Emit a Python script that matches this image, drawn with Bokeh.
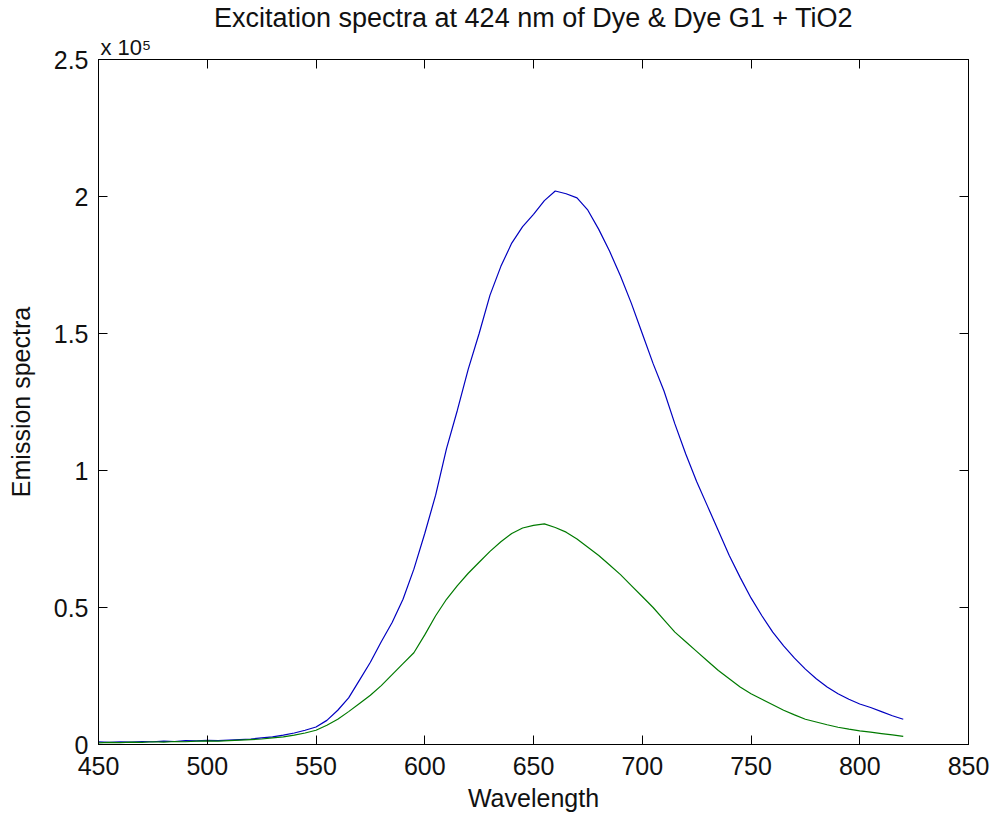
from bokeh.plotting import figure
from bokeh.models import Range1d, LinearAxis, Title, FixedTicker
from bokeh.embed import file_html
from bokeh.resources import INLINE

# wavelength grid (nm)
wavelength = list(range(450, 821, 5))

# Dye (blue), emission in units of 1e5
dye_e5 = [0.010, 0.008, 0.010, 0.009, 0.011, 0.010, 0.012, 0.011, 0.014, 0.013,
          0.015, 0.014, 0.016, 0.018, 0.020, 0.024, 0.028, 0.034, 0.042, 0.052,
          0.064, 0.088, 0.125, 0.170, 0.235, 0.300, 0.375, 0.445, 0.530, 0.640,
          0.770, 0.910, 1.080, 1.220, 1.370, 1.500, 1.640, 1.745, 1.830, 1.890,
          1.935, 1.985, 2.020, 2.010, 1.995, 1.950, 1.880, 1.800, 1.710, 1.610,
          1.500, 1.390, 1.290, 1.170, 1.060, 0.960, 0.870, 0.780, 0.690, 0.610,
          0.535, 0.470, 0.410, 0.360, 0.315, 0.275, 0.240, 0.210, 0.185, 0.165,
          0.148, 0.135, 0.120, 0.105, 0.092]

# Dye G1 + TiO2 (green), emission in units of 1e5
dye_g1_tio2_e5 = [0.006, 0.008, 0.007, 0.009, 0.008, 0.010, 0.009, 0.011, 0.010, 0.012,
                  0.013, 0.012, 0.014, 0.016, 0.018, 0.020, 0.024, 0.028, 0.034, 0.042,
                  0.052, 0.070, 0.092, 0.120, 0.150, 0.180, 0.215, 0.255, 0.295, 0.335,
                  0.400, 0.470, 0.530, 0.580, 0.625, 0.665, 0.705, 0.740, 0.770, 0.790,
                  0.800, 0.805, 0.792, 0.775, 0.750, 0.720, 0.690, 0.655, 0.620, 0.580,
                  0.540, 0.500, 0.455, 0.410, 0.375, 0.340, 0.305, 0.270, 0.240, 0.210,
                  0.185, 0.165, 0.145, 0.125, 0.108, 0.092, 0.082, 0.072, 0.063, 0.056,
                  0.050, 0.045, 0.040, 0.035, 0.030]

x_ticks = [450, 500, 550, 600, 650, 700, 750, 800, 850]
x_tick_labels = ["450", "500", "550", "600", "650", "700", "750", "800", "850"]
y_ticks = [0, 0.5, 1, 1.5, 2, 2.5]
y_tick_labels = ["0", "0.5", "1", "1.5", "2", "2.5"]

FONT = "Liberation Sans"
FS = "25px"

p = figure(width=992, height=813, output_backend="svg", toolbar_location=None,
           x_range=Range1d(450, 850), y_range=Range1d(0, 2.5),
           min_border_left=98, min_border_right=24, min_border_top=58, min_border_bottom=70)
p.frame_width = 870
p.frame_height = 685

p.background_fill_color = "white"
p.border_fill_color = "white"
p.outline_line_color = "black"
p.outline_line_width = 1
p.grid.visible = False

p.line(wavelength, dye_e5, line_color="#0000c0", line_width=1.2)
p.line(wavelength, dye_g1_tio2_e5, line_color="#007a00", line_width=1.2)

def style_axis(ax, ticks, labels, show_labels=True):
    ax.ticker = FixedTicker(ticks=ticks)
    ax.major_label_overrides = {t: l for t, l in zip(ticks, labels)}
    ax.major_tick_in = 9
    ax.major_tick_out = 0
    ax.minor_tick_in = 0
    ax.minor_tick_out = 0
    ax.axis_line_color = "black"
    ax.major_tick_line_color = "black"
    ax.major_label_text_font = FONT
    ax.major_label_text_color = "#111111"
    ax.axis_label_text_font = FONT
    ax.axis_label_text_font_size = FS
    ax.axis_label_text_font_style = "normal"
    ax.axis_label_text_color = "#111111"
    if show_labels:
        ax.major_label_text_font_size = FS
    else:
        ax.major_label_text_font_size = "1px"
        ax.major_label_text_alpha = 0
        ax.major_label_standoff = 0

xa = p.xaxis[0]
style_axis(xa, x_ticks, x_tick_labels)
xa.axis_label = "Wavelength"
xa.major_label_standoff = 12
xa.axis_label_standoff = 6

ya = p.yaxis[0]
style_axis(ya, y_ticks, y_tick_labels)
ya.axis_label = "Emission spectra"
ya.major_label_standoff = 10
ya.axis_label_standoff = 16

top = LinearAxis()
style_axis(top, x_ticks, x_tick_labels, show_labels=False)
p.add_layout(top, "above")
right = LinearAxis()
style_axis(right, y_ticks, y_tick_labels, show_labels=False)
p.add_layout(right, "right")

exp_title = Title(text="x 10\u2075", align="left", offset=2, standoff=0,
                  text_font=FONT, text_font_size="22px", text_font_style="normal",
                  text_color="#111111")
p.add_layout(exp_title, "above")

main_title = Title(text="Excitation spectra at 424 nm of Dye & Dye G1 + TiO2",
                   align="center", standoff=0, text_font=FONT, text_font_size="27px",
                   text_font_style="normal", text_color="#111111")
p.add_layout(main_title, "above")

open("out.html", "w").write(file_html(p, INLINE))
